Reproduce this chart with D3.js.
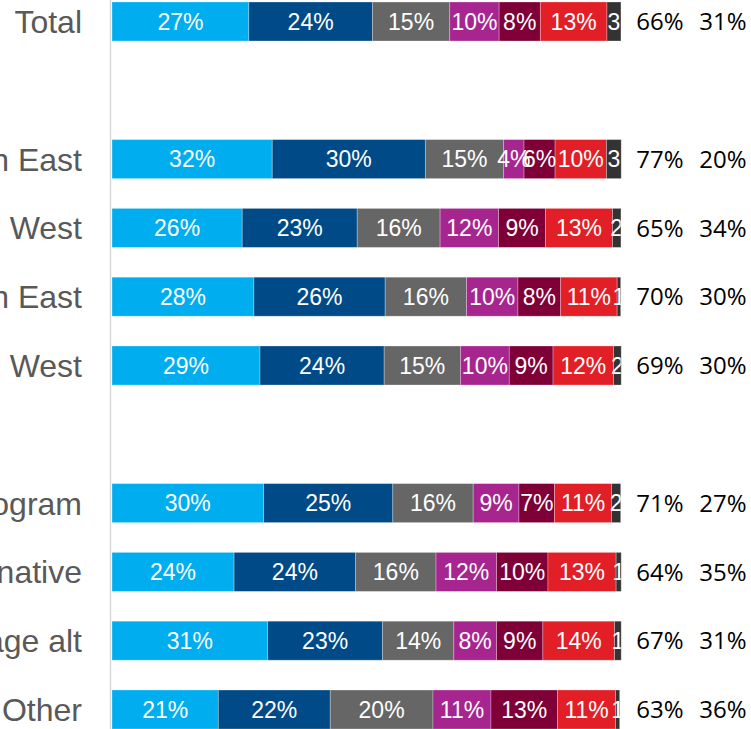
<!DOCTYPE html>
<html>
<head>
<meta charset="utf-8">
<script src="https://cdn.jsdelivr.net/npm/d3@7"></script>
<style>
  body { margin: 0; background: #fff; }
  svg { display: block; }
</style>
</head>
<body>
<script>

// row labels (blank rows are spacers between the groups)
var categories = ["Total", "", "North East", "West", "South East", "West",
                  "", "Main program", "Alternative", "Language alt", "Other"];

// share per answer, one array per series
var series1 = [26.9, null, 31.5, 25.6, 27.9, 29.1, null, 29.8, 24.0, 30.6, 20.9];
var series2 = [24.3, null, 30.1, 22.6, 25.8, 24.4, null, 25.4, 23.9, 22.6, 22.0];
var series3 = [15.2, null, 15.4, 16.3, 16.0, 15.0, null, 15.8, 15.8, 14.0, 20.2];
var series4 = [9.7, null, 4.0, 11.5, 10.1, 9.6, null, 9.0, 11.9, 8.4, 11.4];
var series5 = [8.1, null, 6.1, 9.2, 8.4, 8.6, null, 7.0, 10.1, 9.1, 13.1];
var series6 = [13.1, null, 10.1, 13.2, 11.1, 11.9, null, 11.2, 13.4, 14.1, 11.4];
var series7 = [2.75, null, 2.9, 1.65, 0.7, 1.5, null, 1.8, 1.0, 1.3, 0.8];

var seriesColors = ["#00aeef", "#004b87", "#666666", "#a7258f", "#7f0037", "#e21f26", "#333333"];

// summary columns on the right
var summary1 = [66, null, 77, 65, 70, 69, null, 71, 64, 67, 63];
var summary2 = [31, null, 20, 34, 30, 30, null, 27, 35, 31, 36];

window.onload = function() {

  var w = 751;
  var h = 729;

  var allSeries = [series1, series2, series3, series4, series5, series6, series7];
  var keys = ["s1", "s2", "s3", "s4", "s5", "s6", "s7"];

  // build a table for d3.stack
  var table = [];
  for (var i = 0; i < categories.length; i++) {
    if (series1[i] === null) continue;
    var row = {idx: i};
    for (var k = 0; k < keys.length; k++) {
      row[keys[k]] = allSeries[k][i];
    }
    table.push(row);
  }

  var stacked = d3.stack().keys(keys)(table);

  var svg = d3.select("body")
              .append("svg")
              .attr("width", w)
              .attr("height", h);

  // scales
  var xScale = d3.scaleLinear()
                 .domain([0, 100])
                 .range([112, 620.7]);

  var yScale = d3.scaleBand()
                 .domain(d3.range(categories.length))
                 .range([-12.9, 743.9])
                 .paddingInner(0.433)
                 .paddingOuter(0.2165);

  var colorScale = d3.scaleOrdinal()
                     .domain(keys)
                     .range(seriesColors);

  var mid = function(i) { return yScale(i) + yScale.bandwidth() / 2; };

  // clip labels at the end of the bars
  svg.append("clipPath")
     .attr("id", "plotclip")
     .append("rect")
     .attr("x", 0)
     .attr("y", 0)
     .attr("width", xScale(100))
     .attr("height", h);

  // bars
  var layers = svg.selectAll("g.layer")
     .data(stacked)
     .enter()
     .append("g")
     .attr("class", "layer")
     .attr("fill", function(d) { return colorScale(d.key); });

  layers.selectAll("rect")
     .data(function(d) { return d; })
     .enter()
     .append("rect")
     .attr("x", function(d) { return xScale(d[0]); })
     .attr("y", function(d) { return yScale(d.data.idx); })
     .attr("width", function(d) { return xScale(d[1]) - xScale(d[0]); })
     .attr("height", yScale.bandwidth())
     .attr("stroke", "#ffffff")
     .attr("stroke-opacity", 0.35)
     .attr("stroke-width", 0.8);

  // value labels inside segments
  var labels = svg.append("g")
     .attr("clip-path", "url(#plotclip)");

  stacked.forEach(function(layer, li) {
    labels.selectAll("text.l" + li)
       .data(layer)
       .enter()
       .append("text")
       .attr("class", "l" + li)
       .attr("x", function(d) { return (xScale(d[0]) + xScale(d[1])) / 2; })
       .attr("y", function(d) { return mid(d.data.idx); })
       .attr("dy", "0.36em")
       .attr("text-anchor", "middle")
       .attr("font-family", "'Liberation Sans', Arial, sans-serif")
       .attr("font-size", "23px")
       .attr("fill", "#ffffff")
       .text(function(d) {
         var v = Math.round(d[1] - d[0]);
         return li === keys.length - 1 ? v : v + "%";
       });
  });

  // vertical axis line
  svg.append("line")
     .attr("x1", 110.5)
     .attr("x2", 110.5)
     .attr("y1", 0)
     .attr("y2", h)
     .style("stroke", "#d9d9d9")
     .style("stroke-width", 1.5);

  // category labels
  svg.selectAll("text.cat")
     .data(categories)
     .enter()
     .append("text")
     .attr("class", "cat")
     .attr("x", 82)
     .attr("y", function(d, i) { return mid(i); })
     .attr("dy", "0.36em")
     .attr("text-anchor", "end")
     .attr("font-family", "'Liberation Sans', Arial, sans-serif")
     .attr("font-size", "32px")
     .attr("fill", "#595959")
     .text(function(d) { return d; });

  // summary columns
  var sumCols = [{vals: summary1, x: 660}, {vals: summary2, x: 723}];
  sumCols.forEach(function(col, ci) {
    var rows = [];
    col.vals.forEach(function(v, i) {
      if (v !== null) rows.push({v: v, i: i});
    });
    svg.selectAll("text.sum" + ci)
       .data(rows)
       .enter()
       .append("text")
       .attr("class", "sum" + ci)
       .attr("x", col.x)
       .attr("y", function(d) { return mid(d.i); })
       .attr("dy", "0.36em")
       .attr("text-anchor", "middle")
       .attr("font-family", "'Open Sans', 'Noto Sans', sans-serif")
       .attr("font-size", "24px")
       .attr("fill", "#000000")
       .text(function(d) { return d.v + "%"; });
  });
};
</script>
</body>
</html>
